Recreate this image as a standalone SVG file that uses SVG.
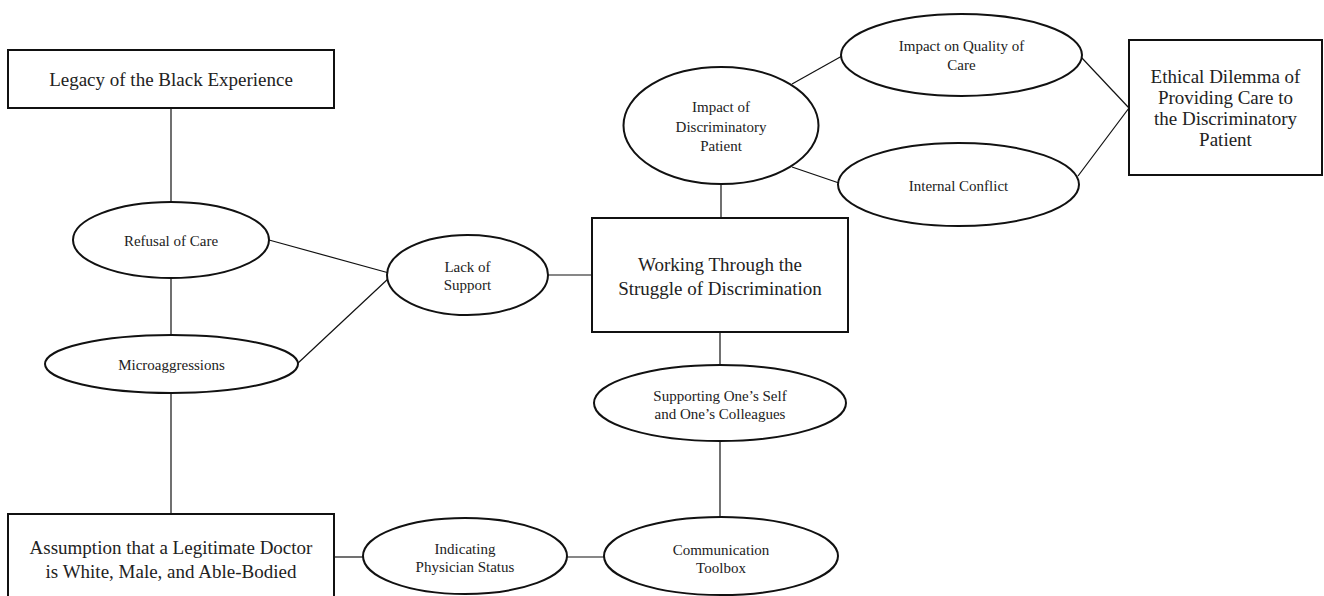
<svg xmlns="http://www.w3.org/2000/svg" width="1324" height="596" viewBox="0 0 1324 596">
<style>
.box{fill:#fff;stroke:#111;stroke-width:2}
.ell{fill:#fff;stroke:#111;stroke-width:2}
.con line{stroke:#111;stroke-width:1.2}
.big{font-family:"Liberation Serif",serif;font-size:19px;fill:#222;text-anchor:middle}
.sm{font-family:"Liberation Serif",serif;font-size:15px;fill:#222;text-anchor:middle}
</style>
<rect width="1324" height="596" fill="#fff"/>
<g class="con" id="connectors">
<line x1="171" y1="108" x2="171" y2="202"/>
<line x1="171" y1="278" x2="171" y2="335"/>
<line x1="171" y1="393" x2="171" y2="514"/>
<line x1="269" y1="240" x2="389" y2="273"/>
<line x1="297" y1="364" x2="389" y2="278"/>
<line x1="548" y1="275" x2="592" y2="275"/>
<line x1="721" y1="184" x2="721" y2="218"/>
<line x1="792" y1="84" x2="842" y2="56"/>
<line x1="792" y1="167" x2="839" y2="183"/>
<line x1="1081" y1="57" x2="1129" y2="108"/>
<line x1="1129" y1="108" x2="1078" y2="176"/>
<line x1="720" y1="332" x2="720" y2="365"/>
<line x1="720" y1="441" x2="720" y2="518"/>
<line x1="334" y1="557" x2="363" y2="557"/>
<line x1="567" y1="557" x2="604" y2="557"/>
</g>
<g id="legacy"><rect class="box" x="8" y="50" width="326" height="58"/><text class="big" x="171" y="85.5">Legacy of the Black Experience</text></g>
<g id="refusal"><ellipse class="ell" cx="171" cy="240" rx="98" ry="38"/><text class="sm" x="171" y="246">Refusal of Care</text></g>
<g id="micro"><ellipse class="ell" cx="171.5" cy="364" rx="126.5" ry="29"/><text class="sm" x="171.5" y="370">Microaggressions</text></g>
<g id="assumption"><rect class="box" x="8" y="514" width="326" height="100"/><text class="big" x="171" y="553.5">Assumption that a Legitimate Doctor</text><text class="big" x="171" y="577.5">is White, Male, and Able-Bodied</text></g>
<g id="lack"><ellipse class="ell" cx="467.5" cy="275" rx="80.5" ry="40"/><text class="sm" x="467.5" y="272">Lack of</text><text class="sm" x="467.5" y="290">Support</text></g>
<g id="working"><rect class="box" x="592" y="218" width="256" height="114"/><text class="big" x="720" y="270.5">Working Through the</text><text class="big" x="720" y="294.5">Struggle of Discrimination</text></g>
<g id="impactdp"><ellipse class="ell" cx="721" cy="125.5" rx="97.5" ry="58.5"/><text class="sm" x="721" y="112">Impact of</text><text class="sm" x="721" y="131.5">Discriminatory</text><text class="sm" x="721" y="151">Patient</text></g>
<g id="quality"><ellipse class="ell" cx="961.5" cy="55" rx="120.5" ry="41"/><text class="sm" x="961.5" y="51">Impact on Quality of</text><text class="sm" x="961.5" y="70">Care</text></g>
<g id="internal"><ellipse class="ell" cx="958.5" cy="184.5" rx="120.5" ry="41.5"/><text class="sm" x="958.5" y="191">Internal Conflict</text></g>
<g id="ethical"><rect class="box" x="1129" y="40" width="193" height="135"/><text class="big" x="1225.5" y="82.5">Ethical Dilemma of</text><text class="big" x="1225.5" y="103.5">Providing Care to</text><text class="big" x="1225.5" y="124.5">the Discriminatory</text><text class="big" x="1225.5" y="145.5">Patient</text></g>
<g id="supporting"><ellipse class="ell" cx="720" cy="403" rx="126" ry="38"/><text class="sm" x="720" y="401">Supporting One’s Self</text><text class="sm" x="720" y="419">and One’s Colleagues</text></g>
<g id="communication"><ellipse class="ell" cx="721" cy="556" rx="117" ry="39"/><text class="sm" x="721" y="555">Communication</text><text class="sm" x="721" y="573">Toolbox</text></g>
<g id="indicating"><ellipse class="ell" cx="465" cy="556" rx="102" ry="38"/><text class="sm" x="465" y="554">Indicating</text><text class="sm" x="465" y="572">Physician Status</text></g>
</svg>
